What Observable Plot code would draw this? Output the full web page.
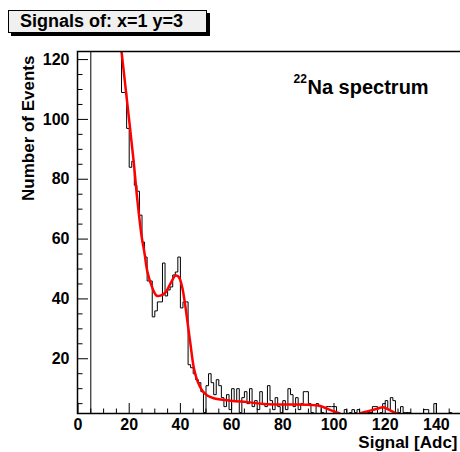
<!DOCTYPE html>
<html><head><meta charset="utf-8">
<script src="https://cdn.jsdelivr.net/npm/d3@7"></script>
<script src="https://cdn.jsdelivr.net/npm/@observablehq/plot@0.6"></script>
<style>
html,body{margin:0;padding:0;background:#fff;overflow:hidden;}
#wrap{position:relative;width:460px;height:452px;}
#chart{position:absolute;left:0;top:0;}
#title{position:absolute;left:8px;top:10px;width:199px;height:23px;box-sizing:border-box;background:#f0f0f0;border:1px solid #000;box-shadow:3px 3px 0 #000;font:bold 18px "Liberation Sans",Arial,sans-serif;line-height:21px;padding-left:11px;white-space:nowrap;z-index:2;color:#000}
</style></head><body>
<div id="wrap"><div id="chart"></div><div id="title"></div></div>
<script>
// ---- text ----
const chartTitle = "Signals of: x=1 y=3";
const xTitle = "Signal [Adc]";
const yTitle = "Number of Events";
const isotopeMass = "22";
const annotation = "Na spectrum";

// ---- histogram: 150 bins of width 1 from 0 (counts per bin) ----
const binLow = 0;
const binWidth = 1;
const binValues = [
  0,0,0,0,0,200,200,200,200,200,
  200,200,200,200,200,200,200,109,109,97,
  84,86,78,76,68,59,54,46,46,34,
  36,39,39,52,41,43,44,48,49,54,
  37,39,39,18,17,15,13,12,9,2,
  11,15,12,8,13,11,7,4,8,3,
  10,6,10,2,7,9,5,10,4,6,
  3,9,5,4,11,6,3,7,4,2,
  6,3,10,8,4,7,3,5,9,9,
  5,2,1,5,4,2,1,4,4,4,
  4,2,1,0,3,1,2,3,2,3,
  2,1,0,2,2,4,4,1,2,5,
  6,3,7,6,2,2,4,2,2,2,
  0,0,0,0,0,3,3,0,0,5,
  0,0,0,0,0,2,0,0,0,0
];

// ---- fit curve ----
const fitX = [16.5,17.0,19.1,21.7,23.2,24.8,26.0,27.0,29.0,30.7,32.2,34.2,36.1,38.1,39.4,40.7,41.6,42.7,43.9,45.2,46.6,48.5,50.5,53.0,59.6,66.1,72.6,79.1,85.6,92.1,94.7,97.3,99.9,101.9,103.7,106.4,108.8,110.4,113.0,116.9,119.2,121.4,123.4,124.9];
const fitY = [126,122.7,106.5,86.3,72.9,61.2,55.2,49.5,43.8,41.1,41.1,42.2,45.1,47.8,47.3,43.9,39.5,32.8,25.1,17.2,12.7,9.4,7.7,6.8,6.0,5.5,4.9,4.7,4.7,4.5,4.2,3.3,2.4,1.8,1.0,0.6,1.0,1.8,2.4,3.3,3.8,3.0,2.1,1.7];

// ---- axes ----
const xDomain = [0, 150];
const yDomain = [1.7, 122.7];
const xMajorTicks = [0,20,40,60,80,100,120,140];
const xMinorTicks = [5,10,15,25,30,35,45,50,55,65,70,75,85,90,95,105,110,115,125,130,135,145];
const yMajorTicks = [20,40,60,80,100,120];
const yMinorTicks = [5,10,15,25,30,35,45,50,55,65,70,75,85,90,95,105,110,115];

document.getElementById("title").textContent = chartTitle;

const bins = binValues.map((v, i) => ({x: binLow + i * binWidth, y: v}));
bins.push({x: binLow + binValues.length * binWidth, y: binValues[binValues.length - 1]});
const fit = fitX.map((x, i) => ({x, y: fitY[i]}));

const W = 460, H = 452, mL = 77, mR = -1, mT = 51, mB = 39;
const plotW = W - mL - mR, plotH = H - mT - mB;
const bold = {fontWeight: "bold"};

const chart = Plot.plot({
  width: W, height: H,
  marginLeft: mL, marginRight: mR, marginTop: mT, marginBottom: mB,
  style: {fontFamily: '"Liberation Sans", Arial, sans-serif', background: "white", color: "#000"},
  x: {domain: xDomain, range: [77.5, 461.5], axis: null},
  y: {domain: yDomain, axis: null},
  marks: [
    Plot.tickX(xMinorTicks, {stroke: "#000", strokeWidth: 1, insetTop: plotH - 4.5}),
    Plot.tickX(xMajorTicks, {stroke: "#000", strokeWidth: 1, insetTop: plotH - 10}),
    Plot.tickY(yMinorTicks, {stroke: "#000", strokeWidth: 1, insetRight: plotW - 5.5}),
    Plot.tickY(yMajorTicks, {stroke: "#000", strokeWidth: 1, insetRight: plotW - 11}),
    Plot.line(bins, {x: "x", y: "y", curve: "step-after", stroke: "#000", strokeWidth: 1, clip: true}),
    Plot.line(fit, {x: "x", y: "y", curve: "catmull-rom", stroke: "#ff0000", strokeWidth: 2.5, clip: true}),
    Plot.frame({stroke: "#000", strokeWidth: 1.5}),
    Plot.axisX(xMajorTicks, {tickSize: 0, tickPadding: 5, fontSize: 16, ...bold, label: null, tickFormat: d => String(d)}),
    Plot.axisY(yMajorTicks, {tickSize: 0, tickPadding: 8, fontSize: 16, ...bold, label: null, tickFormat: d => String(d)}),
    Plot.text([yTitle], {frameAnchor: "top-left", rotate: -90, textAnchor: "end", lineAnchor: "bottom", dx: -44, dy: 4, fontSize: 17, ...bold}),
    Plot.text([xTitle], {frameAnchor: "bottom-right", textAnchor: "end", lineAnchor: "bottom", dx: -4, dy: 34, fontSize: 17, ...bold}),
    Plot.text([isotopeMass], {frameAnchor: "top-left", textAnchor: "start", lineAnchor: "bottom", dx: 216, dy: 31.5, fontSize: 12, ...bold}),
    Plot.text([annotation], {frameAnchor: "top-left", textAnchor: "start", lineAnchor: "bottom", dx: 230, dy: 42.5, fontSize: 20, ...bold})
  ]
});
document.getElementById("chart").appendChild(chart);
</script>
</body></html>
